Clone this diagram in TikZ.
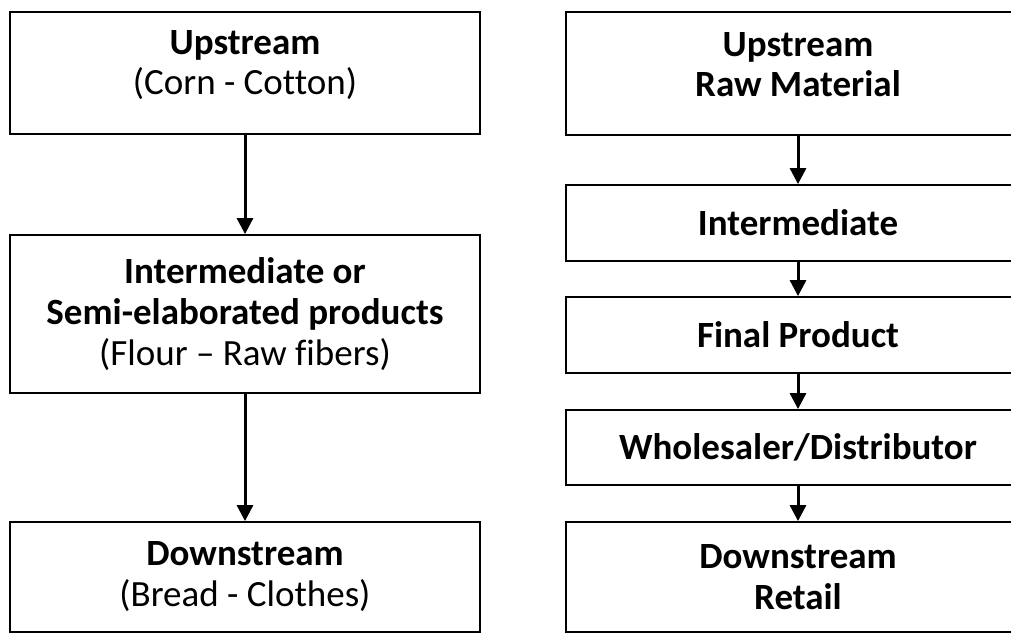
\documentclass[tikz,border=0pt]{standalone}
\usepackage{fontspec}
\setmainfont[Ligatures=NoCommon]{Carlito}
\usetikzlibrary{arrows.meta}
\begin{document}
\begin{tikzpicture}[x=1pt,y=-1pt,
  box/.style={draw=black,line width=1.8pt,rectangle,inner sep=0pt,align=center,
    font=\fontsize{37}{41}\selectfont},
  txt/.style={inner sep=0pt,align=center,font=\fontsize{37}{40}\selectfont},
  arr/.style={line width=3pt,-{Triangle[width=16pt,length=16pt]}}]
\useasboundingbox (0,0) rectangle (1011,642);
% left column
\node[box,minimum width=470pt,minimum height=122pt] (L1) at (245,73) {};
\node[txt] (L1t) at (245,65) {\textbf{Upstream}\\(Corn - Cotton)};
\node[box,minimum width=470pt,minimum height=158pt] (L2) at (245,314)
  {\textbf{Intermediate or}\\\textbf{Semi-elaborated products}\\(Flour – Raw fibers)};
\node[box,minimum width=470pt,minimum height=110pt] (L3) at (245,577)
  {\textbf{Downstream}\\(Bread - Clothes)};
% right column
\node[box,minimum width=464pt,minimum height=123pt] (R1) at (798,73.5) {};
\node[txt] (R1t) at (798,65) {\textbf{Upstream}\\\textbf{Raw Material}};
\node[box,minimum width=464pt,minimum height=76pt] (R2) at (798,223)
  {\textbf{Intermediate}};
\node[box,minimum width=464pt,minimum height=76pt] (R3) at (798,335)
  {\textbf{Final Product}};
\node[box,minimum width=464pt,minimum height=75pt] (R4) at (798,447.5)
  {\textbf{Wholesaler/Distributor}};
\node[box,minimum width=464pt,minimum height=110pt] (R5) at (798,577)
  {\textbf{Downstream}\\\textbf{Retail}};
% arrows
\draw[arr] (L1.south) -- (L2.north);
\draw[arr] (L2.south) -- (L3.north);
\draw[arr] (R1.south) -- (R2.north);
\draw[arr] (R2.south) -- (R3.north);
\draw[arr] (R3.south) -- (R4.north);
\draw[arr] (R4.south) -- (R5.north);
\end{tikzpicture}
\end{document}
